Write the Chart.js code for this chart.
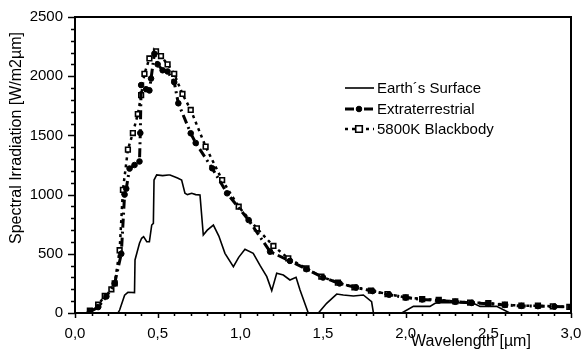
<!DOCTYPE html>
<html>
<head>
<meta charset="utf-8">
<script src="https://cdn.jsdelivr.net/npm/chart.js@4/dist/chart.umd.min.js"></script>
<style>
  html, body { margin: 0; padding: 0; background: #fff; }
  #wrap { width: 582px; height: 356px; }
</style>
</head>
<body>
<div id="wrap"><canvas id="chart" width="582" height="356"></canvas></div>
<script>
// ---------------------------------------------------------------------
// Data
// ---------------------------------------------------------------------
const earthX = [0.26, 0.27, 0.30, 0.32, 0.36, 0.363, 0.39, 0.403, 0.415, 0.434, 0.45, 0.464, 0.474, 0.478, 0.494, 0.53, 0.564, 0.575, 0.62, 0.645, 0.665, 0.68, 0.706, 0.73, 0.756, 0.776, 0.80, 0.837, 0.87, 0.907, 0.958, 0.99, 1.028, 1.078, 1.12, 1.16, 1.19, 1.22, 1.26, 1.30, 1.337, 1.361, 1.411, 1.472, 1.522, 1.583, 1.623, 1.684, 1.744, 1.794, 1.805, 1.976, 2.047, 2.147, 2.178, 2.228, 2.41, 2.45, 2.55, 2.63];
const earthY = [0, 25, 150, 175, 172, 448, 589, 631, 645, 602, 602, 743, 757, 1123, 1166, 1160, 1166, 1166, 1140, 1123, 1011, 1000, 1011, 1000, 997, 659, 700, 743, 650, 504, 391, 470, 538, 504, 400, 307, 189, 335, 321, 279, 301, 194, 0, 0, 82, 160, 152, 144, 152, 95, 0, 0, 56, 56, 82, 90, 82, 56, 56, 0];

const extraX = [0.09, 0.14, 0.19, 0.24, 0.28, 0.30, 0.31, 0.33, 0.36, 0.39, 0.395, 0.40, 0.43, 0.45, 0.46, 0.48, 0.50, 0.53, 0.56, 0.60, 0.625, 0.70, 0.73, 0.83, 0.92, 1.05, 1.18, 1.30, 1.40, 1.50, 1.60, 1.70, 1.80, 1.90, 2.00, 2.10, 2.20, 2.30, 2.40, 2.50, 2.60, 2.70, 2.80, 2.90, 3.00];
const extraY = [10, 50, 140, 250, 500, 1000, 1050, 1220, 1250, 1280, 1520, 1925, 1890, 1880, 1980, 2190, 2100, 2050, 2040, 1950, 1771, 1518, 1436, 1222, 1011, 785, 518, 440, 370, 300, 250, 215, 185, 155, 130, 115, 105, 95, 85, 78, 68, 60, 58, 54, 50];

const bodyX = [0.09, 0.14, 0.18, 0.22, 0.24, 0.27, 0.29, 0.32, 0.35, 0.38, 0.40, 0.42, 0.45, 0.49, 0.52, 0.56, 0.60, 0.65, 0.70, 0.79, 0.89, 0.99, 1.10, 1.20, 1.29, 1.40, 1.49, 1.59, 1.69, 1.79, 1.89, 2.00, 2.10, 2.20, 2.30, 2.39, 2.50, 2.60, 2.70, 2.80, 2.89, 2.99];
const bodyY = [20, 70, 144, 200, 250, 530, 1040, 1380, 1520, 1680, 1840, 2020, 2150, 2210, 2170, 2100, 2020, 1850, 1715, 1405, 1123, 898, 715, 566, 462, 377, 307, 256, 217, 189, 160, 132, 118, 110, 98, 88, 84, 70, 62, 62, 56, 51];

const seriesNames = ["Earth\u00b4s Surface", "Extraterrestrial", "5800K Blackbody"];
const xTicks = [0, 0.5, 1, 1.5, 2, 2.5, 3];
const yTicks = [0, 500, 1000, 1500, 2000, 2500];

const FONT = "'Liberation Sans', Arial, sans-serif";

function toPoints(xs, ys) {
  return xs.map((x, i) => ({ x: x, y: ys[i] }));
}

// ---------------------------------------------------------------------
// Frame, minor ticks, axis titles and legend drawn by hand
// ---------------------------------------------------------------------
const decor = {
  id: "decor",
  afterDatasetsDraw(chart) {
    const { ctx, chartArea: a, scales } = chart;
    const xs = scales.x, ys = scales.y;
    ctx.save();
    ctx.strokeStyle = "#000";
    ctx.setLineDash([]);

    // frame
    ctx.lineWidth = 2;
    ctx.strokeRect(a.left, a.top, a.right - a.left, a.bottom - a.top);

    // ticks
    ctx.lineWidth = 1.5;
    ctx.beginPath();
    for (let v = 0; v <= 2500; v += 100) {
      const py = Math.round(ys.getPixelForValue(v)) + 0.5;
      const len = v % 500 === 0 ? 7 : 4;
      ctx.moveTo(a.left - len, py);
      ctx.lineTo(a.left, py);
    }
    for (let i = 0; i <= 30; i++) {
      const px = Math.round(xs.getPixelForValue(i / 10)) + 0.5;
      const len = i % 5 === 0 ? 5 : 3;
      ctx.moveTo(px, a.bottom);
      ctx.lineTo(px, a.bottom + len);
    }
    ctx.stroke();

    // axis titles
    ctx.fillStyle = "#000";
    ctx.font = "16px " + FONT;
    ctx.textAlign = "center";
    ctx.textBaseline = "middle";
    ctx.fillText("Wavelength [\u00b5m]", 471, 342);
    ctx.save();
    ctx.translate(17, 138);
    ctx.rotate(-Math.PI / 2);
    ctx.fillText("Spectral Irradiation [W/m2\u00b5m]", 0, 0);
    ctx.restore();

    // legend
    ctx.font = "15px " + FONT;
    ctx.textAlign = "left";
    const rows = [88, 109, 129];
    chart.data.datasets.forEach((ds, i) => {
      const y = rows[i];
      ctx.lineWidth = ds.borderWidth;
      ctx.setLineDash(ds.borderDash || []);
      ctx.beginPath();
      ctx.moveTo(345, y);
      ctx.lineTo(374, y);
      ctx.stroke();
      ctx.setLineDash([]);
      if (ds.pointRadius > 0) {
        ctx.lineWidth = ds.pointBorderWidth;
        ctx.fillStyle = ds.pointBackgroundColor;
        ctx.beginPath();
        if (ds.pointStyle === "rect") {
          const r = ds.pointRadius;
          ctx.rect(359 - r, y - r, 2 * r, 2 * r);
        } else {
          ctx.arc(359, y, ds.pointRadius, 0, Math.PI * 2);
        }
        ctx.fill();
        ctx.stroke();
      }
      ctx.fillStyle = "#000";
      ctx.fillText(ds.label, 377, y + 1);
    });
    ctx.restore();
  },
};

new Chart(document.getElementById("chart"), {
  type: "line",
  data: {
    datasets: [
      {
        label: seriesNames[0],
        data: toPoints(earthX, earthY),
        borderColor: "#000",
        borderWidth: 1.6,
        pointRadius: 0,
        tension: 0,
      },
      {
        label: seriesNames[1],
        data: toPoints(extraX, extraY),
        borderColor: "#000",
        borderWidth: 3,
        borderDash: [9, 4, 2, 4],
        pointRadius: 2.8,
        pointStyle: "circle",
        pointBackgroundColor: "#000",
        pointBorderColor: "#000",
        pointBorderWidth: 1,
        tension: 0,
      },
      {
        label: seriesNames[2],
        data: toPoints(bodyX, bodyY),
        borderColor: "#000",
        borderWidth: 2.5,
        borderDash: [3, 4],
        pointRadius: 3.3,
        pointStyle: "rect",
        pointBackgroundColor: "#fff",
        pointBorderColor: "#000",
        pointBorderWidth: 1.6,
        tension: 0,
      },
    ],
  },
  options: {
    responsive: false,
    animation: false,
    layout: { padding: { left: 0, right: 11, top: 17, bottom: 0 } },
    plugins: { legend: { display: false }, tooltip: { enabled: false } },
    scales: {
      x: {
        type: "linear",
        min: 0,
        max: 3,
        afterBuildTicks: (s) => { s.ticks = xTicks.map((v) => ({ value: v })); },
        afterFit: (s) => {
          s.height = 43;
          s.paddingLeft = 0;
          s.paddingRight = 0;
        },
        grid: { display: false, drawTicks: false },
        border: { display: false },
        ticks: {
          padding: 12,
          color: "#000",
          font: { family: FONT, size: 15 },
          maxRotation: 0,
          callback: (v) => Number(v).toFixed(1).replace(".", ","),
        },
      },
      y: {
        min: 0,
        max: 2500,
        afterBuildTicks: (s) => { s.ticks = yTicks.map((v) => ({ value: v })); },
        afterFit: (s) => {
          s.width = 75;
          s.paddingTop = 0;
          s.paddingBottom = 0;
        },
        grid: { display: false, drawTicks: false },
        border: { display: false },
        ticks: {
          padding: 12,
          color: "#000",
          font: { family: FONT, size: 15 },
          callback: (v) => String(v),
        },
      },
    },
  },
  plugins: [decor],
});
</script>
</body>
</html>
